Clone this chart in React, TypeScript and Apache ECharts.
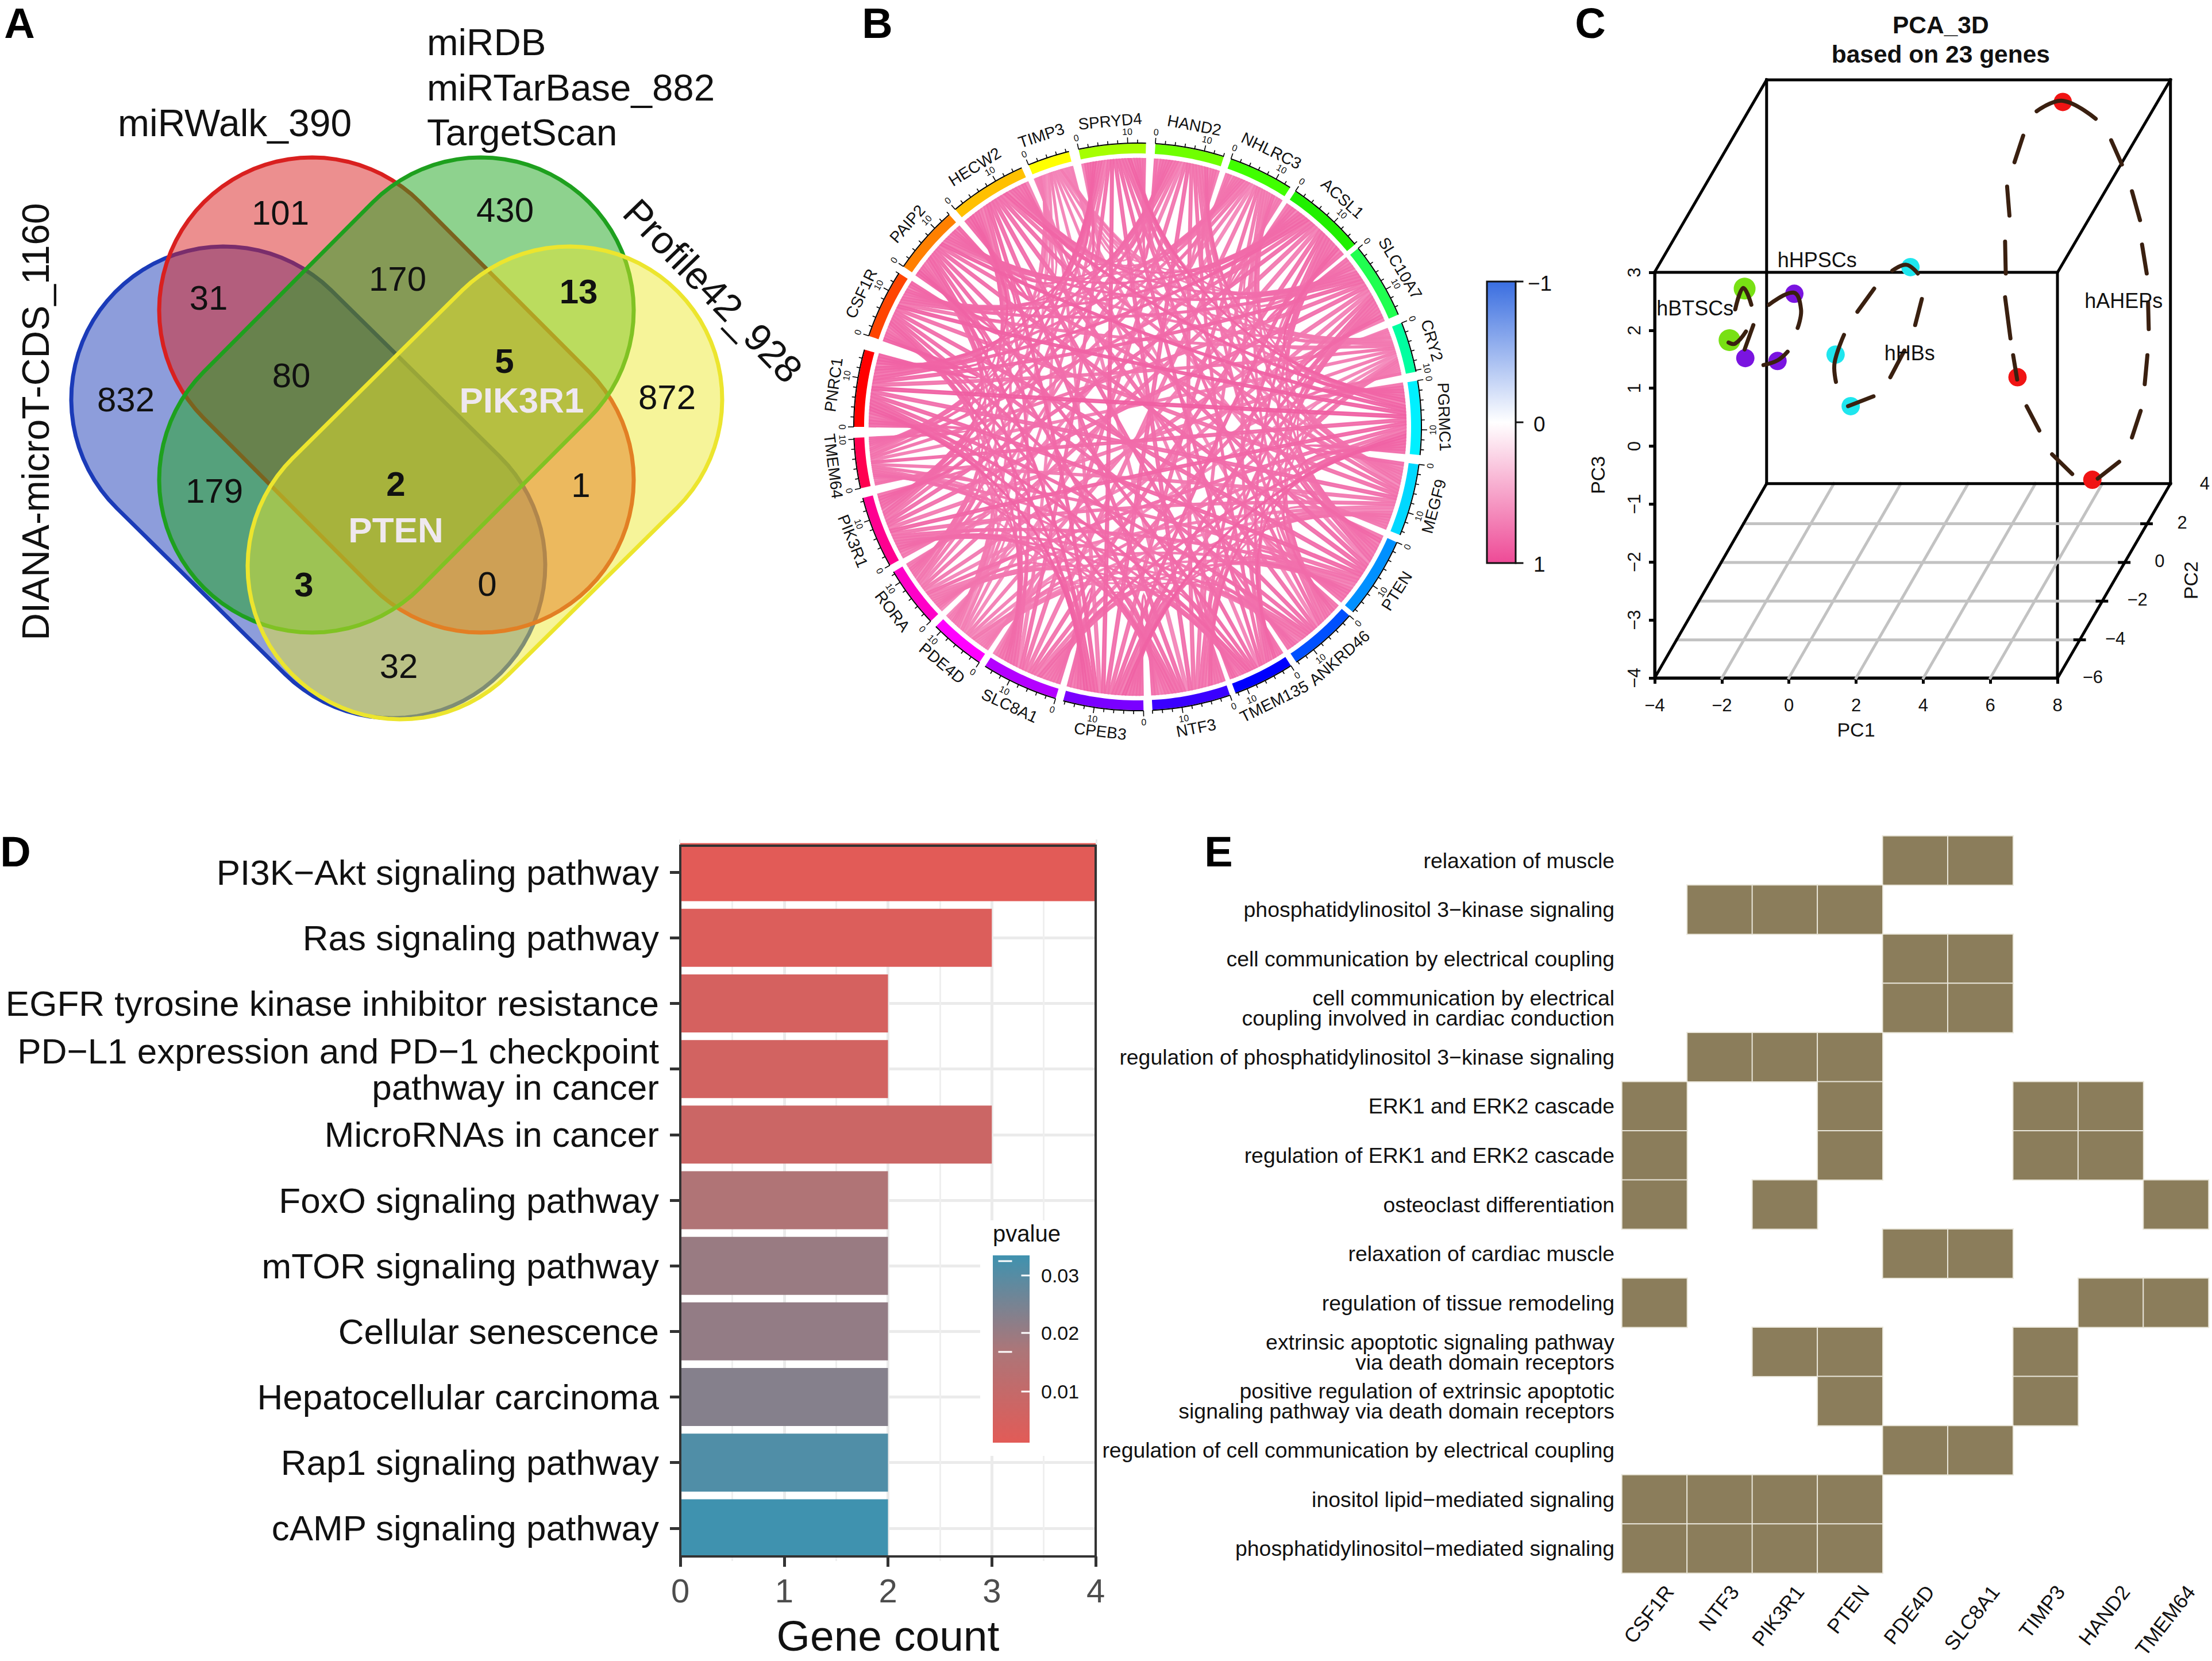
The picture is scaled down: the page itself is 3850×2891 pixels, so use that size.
import React, { useEffect, useRef } from "react";
import * as echarts from "echarts";

const FONT = '"Liberation Sans", Arial, sans-serif';

// ---------- Panel A ----------
const vennValues = ["832", "101", "31", "430", "170", "13", "80", "5", "PIK3R1", "872", "179", "2", "PTEN", "1", "3", "0", "32"];
const vennBold = ["13", "5", "PIK3R1", "2", "PTEN", "3"];
const vennSets = ["DIANA-microT-CDS_1160", "miRWalk_390", "miRDB", "miRTarBase_882", "TargetScan", "Profile42_928"];

// ---------- Panel B ----------
const chordGenes = ["SPRYD4", "HAND2", "NHLRC3", "ACSL1", "SLC10A7", "CRY2", "PGRMC1", "MEGF9", "PTEN", "ANKRD46", "TMEM135", "NTF3", "CPEB3", "SLC8A1", "PDE4D", "RORA", "PIK3R1", "TMEM64", "PNRC1", "CSF1R", "PAIP2", "HECW2", "TIMP3"];
const chordStart = [-12, 3.6, 19.2, 33.8, 51, 68.5, 80.6, 97.6, 114, 131.7, 147.3, 161, 178.8, 196.8, 213.9, 226.8, 240.8, 257.5, 270, 288.7, 304.4, 320, 337.4];
const chordEnd = [1.7, 17.7, 32.5, 50, 66.7, 78.8, 95.7, 112.4, 130.7, 146, 159.8, 177, 195.2, 212.5, 225.3, 239.3, 255.5, 267.8, 285.8, 302.8, 318.4, 335.9, 346];
const chordCorr = [0.82, 0.76, 0.7, 0.8, 0.78, 0.66, 0.88, 0.72, 0.78, 0.76, 0.8, 0.78, 0.84, 0.76, 0.62, 0.7, 0.8, 0.76, 0.88, 0.84, 0.84, 0.82, 0.58];
const chordColors = ["#a6ff00", "#6fff00", "#40ff00", "#20f000", "#20ff50", "#00ffa0", "#00f0ff", "#00d8ff", "#0090ff", "#0050ff", "#0000ff", "#3a00ff", "#7a00ff", "#b400ff", "#ff00ff", "#ff00c8", "#ff0090", "#ff0050", "#ff0000", "#ff4500", "#ff8000", "#ffc000", "#ffff00"];

// ---------- Panel C ----------
const pcaTicksPC2 = ["−6", "−4", "−2", "0", "2", "4"];
const pcaGreen = [[-1.32, 2.72], [-1.77, 1.83]];
const pcaPurple = [[0.16, 2.63], [-1.3, 1.52], [-0.34, 1.47]];
const pcaCyan = [[3.62, 3.09], [1.39, 1.58], [1.84, 0.69]];
const pcaRed = [[8.16, 5.94], [6.81, 1.19], [9.04, -0.58]];
const ellipseDashes: number[][][] = [
  [[7.38, 5.78], [8.16, 5.96], [9.14, 5.65]], [[9.6, 5.28], [9.92, 4.86]], [[10.22, 4.4], [10.46, 3.9]], [[10.52, 3.48], [10.66, 2.98]],
  [[10.7, 2.48], [10.72, 2.02]], [[10.68, 1.57], [10.6, 1.07]], [[10.48, 0.61], [10.22, 0.15]], [[9.84, -0.27], [9.2, -0.56]],
  [[8.44, -0.48], [7.84, -0.14]], [[7.46, 0.27], [7.08, 0.69]], [[6.8, 1.15], [6.68, 1.57]], [[6.6, 1.86], [6.44, 2.57]],
  [[6.46, 2.98], [6.44, 3.53]], [[6.57, 3.98], [6.5, 4.48]], [[6.72, 4.9], [6.98, 5.36]],
  [[3.08, 3.03], [3.5, 3.13], [3.84, 2.98]], [[3.96, 2.54], [3.76, 2.09]], [[3.44, 1.65], [3.02, 1.19]], [[2.52, 0.86], [1.76, 0.69]],
  [[1.4, 1.11], [1.36, 1.44], [1.64, 1.92]], [[2.04, 2.32], [2.54, 2.72]],
  [[-0.6, 2.44], [0.14, 2.65], [0.36, 2.36], [0.26, 2.04]], [[-0.04, 1.63], [-0.34, 1.48], [-0.76, 1.4]], [[-1.32, 1.67], [-1.06, 2.09]],
  [[-1.6, 2.36], [-1.36, 2.73], [-1.12, 2.44]], [[-1.28, 1.98], [-1.6, 1.77], [-1.8, 1.79]],
];

// ---------- Panel D ----------
const pathways = ["PI3K−Akt signaling pathway", "Ras signaling pathway", "EGFR tyrosine kinase inhibitor resistance", "PD−L1 expression and PD−1 checkpoint\npathway in cancer", "MicroRNAs in cancer", "FoxO signaling pathway", "mTOR signaling pathway", "Cellular senescence", "Hepatocellular carcinoma", "Rap1 signaling pathway", "cAMP signaling pathway"];
const geneCounts = [4, 3, 2, 2, 3, 2, 2, 2, 2, 2, 2];
const pValues = [0.0012, 0.003, 0.005, 0.006, 0.008, 0.016, 0.02, 0.021, 0.023, 0.031, 0.0335];
const pLegendTicks = ["0.03", "0.02", "0.01"];

// ---------- Panel E ----------
const goGenes = ["CSF1R", "NTF3", "PIK3R1", "PTEN", "PDE4D", "SLC8A1", "TIMP3", "HAND2", "TMEM64"];
const goTerms = ["relaxation of muscle", "phosphatidylinositol 3−kinase signaling", "cell communication by electrical coupling", "cell communication by electrical\ncoupling involved in cardiac conduction", "regulation of phosphatidylinositol 3−kinase signaling", "ERK1 and ERK2 cascade", "regulation of ERK1 and ERK2 cascade", "osteoclast differentiation", "relaxation of cardiac muscle", "regulation of tissue remodeling", "extrinsic apoptotic signaling pathway\nvia death domain receptors", "positive regulation of extrinsic apoptotic\nsignaling pathway via death domain receptors", "regulation of cell communication by electrical coupling", "inositol lipid−mediated signaling", "phosphatidylinositol−mediated signaling"];
const goMembers = [
  ["PDE4D", "SLC8A1"], ["NTF3", "PIK3R1", "PTEN"], ["PDE4D", "SLC8A1"], ["PDE4D", "SLC8A1"], ["NTF3", "PIK3R1", "PTEN"],
  ["CSF1R", "PTEN", "TIMP3", "HAND2"], ["CSF1R", "PTEN", "TIMP3", "HAND2"], ["CSF1R", "PIK3R1", "TMEM64"], ["PDE4D", "SLC8A1"], ["CSF1R", "HAND2", "TMEM64"],
  ["PIK3R1", "PTEN", "TIMP3"], ["PTEN", "TIMP3"], ["PDE4D", "SLC8A1"], ["CSF1R", "NTF3", "PIK3R1", "PTEN"], ["CSF1R", "NTF3", "PIK3R1", "PTEN"],
];

// ---------- helpers ----------
const txt = (text: string, x: number, y: number, size: number, o: any = {}) => ({
  type: "text", x, y, rotation: o.rotation || 0, z: o.z ?? 50, silent: true,
  style: {
    text, fill: o.fill || "#111", fontSize: size, fontFamily: FONT, fontWeight: o.weight || "normal",
    align: o.align || "center", textAlign: o.align || "center", verticalAlign: "middle", textVerticalAlign: "middle", lineHeight: o.lineHeight,
  },
});
const seg = (a: number[], b: number[], stroke: string, lineWidth: number, z = 1) => ({
  type: "line", z, silent: true, shape: { x1: a[0], y1: a[1], x2: b[0], y2: b[1] }, style: { stroke, lineWidth, lineCap: "square" },
});
function stadium(x1: number, y1: number, x2: number, y2: number, r: number) {
  const base = Math.atan2(y2 - y1, x2 - x1);
  const pts: number[][] = [];
  for (let k = 0; k <= 40; k++) {
    const t = base + Math.PI / 2 + (Math.PI * k) / 40;
    pts.push([x1 + r * Math.cos(t), y1 + r * Math.sin(t)]);
  }
  for (let k = 0; k <= 40; k++) {
    const t = base - Math.PI / 2 + (Math.PI * k) / 40;
    pts.push([x2 + r * Math.cos(t), y2 + r * Math.sin(t)]);
  }
  return pts;
}

// Panel A layout
const vennPos = [[219, 695], [488, 370], [363, 518], [879, 365], [692, 485], [1007, 507], [507, 653], [878, 628], [908, 696], [1161, 691], [373, 854], [689, 842], [689, 922], [1011, 844], [529, 1017], [848, 1016], [694, 1159]];
function vennGraphics() {
  const shapes = [
    { c: [390, 695, 683, 984], fill: "rgba(27,59,184,0.5)", stroke: "#1b3bb8" },
    { c: [543, 540, 837, 835], fill: "rgba(217,32,31,0.5)", stroke: "#d9201f" },
    { c: [837, 540, 543, 835], fill: "rgba(30,165,30,0.5)", stroke: "#1ea01e" },
    { c: [991, 695, 697, 986], fill: "rgba(237,232,42,0.48)", stroke: "#ece52e" },
  ];
  const els: any[] = shapes.map((s, i) => ({
    type: "polygon", z: 2 + i, silent: true,
    shape: { points: stadium(s.c[0], s.c[1], s.c[2], s.c[3], 266) },
    style: { fill: s.fill, stroke: s.stroke, lineWidth: 7 },
  }));
  vennValues.forEach((v, i) => {
    const bold = vennBold.includes(v);
    const isGene = v === "PIK3R1" || v === "PTEN";
    els.push(txt(v, vennPos[i][0], vennPos[i][1], isGene ? 62 : 60, { weight: bold ? "bold" : "normal", fill: isGene ? "#efe8ef" : "#111" }));
  });
  els.push(txt(vennSets[0], 62, 734, 66, { rotation: Math.PI / 2 }));
  els.push(txt(vennSets[1], 205, 214, 66, { align: "left" }));
  els.push(txt(vennSets[2], 743, 73, 65.5, { align: "left" }));
  els.push(txt(vennSets[3], 743, 152, 65.5, { align: "left" }));
  els.push(txt(vennSets[4], 743, 230, 65.5, { align: "left" }));
  els.push(txt(vennSets[5], 1241, 506, 67, { rotation: (-46 * Math.PI) / 180 }));
  return els;
}

// Panel B layout
const CX = 1980, CY = 743, R_AXIS = 494, R_RING = 476, R_LINK = 467;
const polar = (deg: number, r: number) => {
  const t = (deg * Math.PI) / 180;
  return [CX + r * Math.sin(t), CY - r * Math.cos(t)];
};
const tangentRotation = (deg: number) => {
  const d = ((deg % 360) + 360) % 360;
  return d > 90 && d < 270 ? ((180 - d) * Math.PI) / 180 : (-d * Math.PI) / 180;
};
function mixPink(c: number) {
  const to = [238, 74, 150];
  const v = to.map((ch) => Math.round(255 + (ch - 255) * c));
  return `rgb(${v[0]},${v[1]},${v[2]})`;
}
const chordLinks: number[][] = [];
chordGenes.forEach((_, i) => {
  for (let j = i + 1; j < chordGenes.length; j++) chordLinks.push([i, j, (chordCorr[i] + chordCorr[j]) / 2]);
});
chordLinks.sort((a, b) => a[2] - b[2]);
function slot(i: number, j: number) {
  const n = chordGenes.length;
  const k = (j - i + n) % n;
  const span = chordEnd[i] - chordStart[i];
  const w = span / (n - 1);
  const mid = chordStart[i] + span * (1 - (k - 0.5) / (n - 1));
  return [mid - w * 0.47, mid + w * 0.47];
}
function curve(p0: number[], p2: number[]) {
  const ux = (p0[0] + p2[0]) / 2 - CX, uy = (p0[1] + p2[1]) / 2 - CY;
  const near = Math.hypot(ux, uy) / R_LINK;
  const k = 0.25 + 0.75 * (1 - near);
  const c = [CX + k * ux, CY + k * uy];
  const out: number[][] = [];
  for (let s = 1; s < 16; s++) {
    const t = s / 16;
    out.push([
      (1 - t) * (1 - t) * p0[0] + 2 * t * (1 - t) * c[0] + t * t * p2[0],
      (1 - t) * (1 - t) * p0[1] + 2 * t * (1 - t) * c[1] + t * t * p2[1],
    ]);
  }
  return out;
}
function renderRibbon(_: any, api: any) {
  const i = api.value(0), j = api.value(1), corr = api.value(2);
  const a = slot(i, j), b = slot(j, i);
  const a0 = polar(a[0], R_LINK), a1 = polar(a[1], R_LINK), b0 = polar(b[0], R_LINK), b1 = polar(b[1], R_LINK);
  const color = mixPink(corr);
  return {
    type: "polygon",
    shape: { points: [a0, a1, ...curve(a1, b0), b0, b1, ...curve(b1, a0)] },
    style: { fill: color, stroke: color, lineWidth: 2.4, opacity: 0.92 },
  };
}
function renderSector(_: any, api: any) {
  const i = api.value(0);
  const s = chordStart[i], e = chordEnd[i];
  const outer: number[][] = [], inner: number[][] = [], axis: number[][] = [];
  for (let k = 0; k <= 16; k++) {
    const d = s + ((e - s) * k) / 16;
    outer.push(polar(d, R_AXIS - 1));
    inner.unshift(polar(d, R_RING));
    axis.push(polar(d, R_AXIS));
  }
  const children: any[] = [
    { type: "polygon", shape: { points: [...outer, ...inner] }, style: { fill: chordColors[i] } },
    { type: "polyline", shape: { points: axis }, style: { stroke: "#000", fill: "none", lineWidth: 2 } },
  ];
  for (let u = 0; u <= e - s; u += 2) {
    const major = u % 10 === 0;
    const p = polar(s + u, R_AXIS), q = polar(s + u, R_AXIS + (major ? 10 : 6));
    children.push({ type: "line", shape: { x1: p[0], y1: p[1], x2: q[0], y2: q[1] }, style: { stroke: "#000", lineWidth: 1.6 } });
    if (major) {
      const l = polar(s + u, R_AXIS + 20);
      children.push({
        type: "text", x: l[0], y: l[1], rotation: tangentRotation(s + u),
        style: { text: String(u), fontSize: 16, fontFamily: FONT, fill: "#111", align: "center", verticalAlign: "middle", textAlign: "center", textVerticalAlign: "middle" },
      });
    }
  }
  const mid = (s + e) / 2, lp = polar(mid, 534);
  children.push({
    type: "text", x: lp[0], y: lp[1], rotation: tangentRotation(mid),
    style: { text: chordGenes[i], fontSize: 28, fontFamily: FONT, fill: "#111", align: "center", verticalAlign: "middle", textAlign: "center", textVerticalAlign: "middle" },
  });
  return { type: "group", children };
}
function colorbarGraphics() {
  return [
    {
      type: "rect", z: 2, silent: true, shape: { x: 2588, y: 490, width: 50, height: 490 },
      style: {
        stroke: "#111", lineWidth: 3,
        fill: { type: "linear", x: 0, y: 0, x2: 0, y2: 1, colorStops: [{ offset: 0, color: "#3a6ee0" }, { offset: 0.5, color: "#ffffff" }, { offset: 1, color: "#ee4a96" }] },
      },
    },
    seg([2638, 490], [2650, 490], "#111", 3), seg([2638, 735], [2650, 735], "#111", 3), seg([2638, 980], [2650, 980], "#111", 3),
    txt("−1", 2659, 493, 37, { align: "left" }), txt("0", 2669, 738, 37, { align: "left" }), txt("1", 2669, 982, 37, { align: "left" }),
  ];
}

// Panel C layout (helper takes zoomed frame coordinates)
const C = (dx: number, dy: number) => [2750 + dx / 1.4255, dy / 1.188];
function pcaGraphics() {
  const els: any[] = [];
  const grey = "#c2c2c2";
  [352, 518, 685, 852, 1018].forEach((x) => els.push(seg(C(x, 1402), C(x + 278, 1000), grey, 5)));
  [1083, 1163, 1243, 1323].forEach((y) => {
    const l = 185 + ((1402 - y) * 278) / 402;
    els.push(seg(C(l, y), C(l + 1000, y), grey, 5));
    els.push(seg(C(l + 1000 - 12, y), C(l + 1012, y), "#000", 5, 3));
  });
  const k = "#000";
  const frame = [
    [[185, 563], [463, 165]], [[1185, 563], [1465, 165]], [[185, 1402], [463, 1000]], [[1185, 1402], [1465, 1000]],
    [[463, 165], [1465, 165]], [[1465, 165], [1465, 1000]], [[1465, 1000], [463, 1000]], [[463, 1000], [463, 165]],
  ];
  frame.forEach((f) => els.push(seg(C(f[0][0], f[0][1]), C(f[1][0], f[1][1]), k, 5, 2)));
  const pc2 = [[1272, 1400], [1328, 1320], [1383, 1240], [1438, 1160], [1494, 1080], [1550, 1000]];
  pcaTicksPC2.forEach((t, i) => {
    const p = C(pc2[i][0], pc2[i][1]);
    els.push(txt(t, p[0], p[1], 31));
  });
  const name = C(1515, 1200);
  els.push(txt("PC2", name[0], name[1], 34, { rotation: Math.PI / 2 }));
  const title = C(895, 52), title2 = C(895, 112);
  els.push(txt("PCA_3D", title[0], title[1], 42.5, { weight: "bold" }));
  els.push(txt("based on 23 genes", title2[0], title2[1], 42.5, { weight: "bold" }));
  const groups: [string, number, number][] = [["hHPSCs", 490, 538], ["hBTSCs", 190, 637], ["hHBs", 755, 730], ["hAHEPs", 1252, 622]];
  groups.forEach(([t, x, y]) => {
    const p = C(x, y);
    els.push(txt(t, p[0], p[1], 36, { align: "left", z: 60 }));
  });
  return els;
}
function renderDash(_: any, api: any) {
  const d = ellipseDashes[api.value(2)];
  return {
    type: "polyline",
    shape: { points: d.map((p) => api.coord(p)), smooth: 0.4 },
    style: { stroke: "#3a2010", fill: "none", lineWidth: 7, lineCap: "round" },
  };
}

// Panel D furniture
function pPanelGraphics() {
  const els: any[] = [
    { type: "rect", z: 1, silent: true, shape: { x: 1184, y: 1455, width: 723, height: 15 }, style: { fill: "#fff" } },
    { type: "rect", z: 10, silent: true, shape: { x: 1184, y: 1472, width: 723, height: 1237 }, style: { fill: "none", stroke: "#333", lineWidth: 4 } },
    { type: "rect", z: 40, silent: true, shape: { x: 1706, y: 2124, width: 199, height: 410 }, style: { fill: "#fff" } },
    {
      type: "rect", z: 41, silent: true, shape: { x: 1728, y: 2185, width: 64, height: 326 },
      style: { fill: { type: "linear", x: 0, y: 0, x2: 0, y2: 1, colorStops: [{ offset: 0, color: "#3f92af" }, { offset: 0.5, color: "#ab7679" }, { offset: 1, color: "#e25b57" }] } },
    },
    txt("pvalue", 1728, 2147, 40, { align: "left" }),
  ];
  [2220, 2320, 2422].forEach((y, i) => {
    els.push({ ...seg([1779, y], [1792, y], "#fff", 3), z: 42 });
    els.push(txt(pLegendTicks[i], 1812, y, 34, { align: "left" }));
  });
  [2195, 2353].forEach((y) => els.push({ ...seg([1739, y], [1760, y], "#fff", 3), z: 42 }));
  return els;
}
// Panel E column labels
function goGeneLabels() {
  return goGenes.map((g, i) => txt(g, 2823 + ((i + 0.5) * 1021) / goGenes.length + 26, 2764, 35.5, { align: "right", rotation: (52 * Math.PI) / 180 }));
}

const letters = [["A", 34, 40], ["B", 1527, 40], ["C", 2768, 40], ["D", 27, 1482], ["E", 2121, 1482]];

function buildOption(): any {
  const heat: any[] = [];
  goMembers.forEach((m, row) => m.forEach((g) => heat.push([goGenes.indexOf(g), row, 1])));
  const scatter = (data: number[][], color: string, size = 32) => ({
    type: "scatter", xAxisIndex: 2, yAxisIndex: 2, data, clip: false, z: 4, symbolSize: size, itemStyle: { color, opacity: 1 }, silent: true,
  });
  const minus = (v: number) => String(v).replace("-", "−");
  return {
    animation: false,
    backgroundColor: "#fff",
    textStyle: { fontFamily: FONT },
    grid: [
      { left: 1184, top: 1461, width: 723, height: 1256, show: false, containLabel: false, outerBoundsMode: "none" },
      { left: 2823, top: 1455, width: 1021, height: 1283, containLabel: false, outerBoundsMode: "none" },
      { left: 2880, top: 474, width: 701, height: 706, show: true, borderColor: "#000", borderWidth: 5, containLabel: false, outerBoundsMode: "none" },
    ],
    xAxis: [
      {
        gridIndex: 0, type: "value", min: 0, max: 4, interval: 1, offset: -8, name: "Gene count", nameLocation: "middle", nameGap: 100,
        nameTextStyle: { fontSize: 75, color: "#111", fontFamily: FONT },
        axisLine: { show: true, lineStyle: { color: "#333", width: 4 } }, axisTick: { show: true, length: 18, lineStyle: { color: "#333", width: 5 } },
        axisLabel: { fontSize: 58, color: "#4d4d4d", margin: 30, fontFamily: FONT, showMinLabel: true, showMaxLabel: true },
        splitLine: { show: true, lineStyle: { color: "#ebebeb", width: 5 } },
        minorTick: { show: false, splitNumber: 2 }, minorSplitLine: { show: true, lineStyle: { color: "#efefef", width: 3 } },
      },
      {
        gridIndex: 1, type: "category", data: goGenes, position: "bottom",
        axisLine: { show: false }, axisTick: { show: false }, splitLine: { show: false }, axisLabel: { show: false },
      },
      {
        gridIndex: 2, type: "value", min: -4, max: 8, interval: 2, name: "PC1", nameLocation: "middle", nameGap: 73,
        nameTextStyle: { fontSize: 34, color: "#111", fontFamily: FONT },
        axisLine: { show: true, onZero: false, lineStyle: { color: "#000", width: 5 } }, axisTick: { show: true, length: 10, lineStyle: { color: "#000", width: 5 } },
        axisLabel: { fontSize: 31, color: "#111", margin: 32, fontFamily: FONT, showMinLabel: true, showMaxLabel: true, formatter: minus }, splitLine: { show: false },
      },
    ],
    yAxis: [
      {
        gridIndex: 0, type: "category", data: pathways, inverse: true,
        axisLine: { show: false },
        axisTick: { show: true, alignWithLabel: true, length: 18, lineStyle: { color: "#333", width: 5 } },
        axisLabel: { fontSize: 62, color: "#111", margin: 37, interval: 0, lineHeight: 63, fontFamily: FONT },
        splitLine: { show: true, alignWithLabel: true, lineStyle: { color: "#ebebeb", width: 5 } },
      },
      {
        gridIndex: 1, type: "category", data: goTerms, inverse: true,
        axisLine: { show: false }, axisTick: { show: false }, splitLine: { show: false },
        axisLabel: { fontSize: 37.4, color: "#111", margin: 13, interval: 0, lineHeight: 35, padding: [0, 0, 6, 0], fontFamily: FONT },
      },
      {
        gridIndex: 2, type: "value", min: -4, max: 3, interval: 1, name: "PC3", nameLocation: "middle", nameGap: 82,
        nameTextStyle: { fontSize: 34, color: "#111", fontFamily: FONT },
        axisLine: { show: true, onZero: false, lineStyle: { color: "#000", width: 5 } }, axisTick: { show: true, length: 10, lineStyle: { color: "#000", width: 5 } },
        axisLabel: { fontSize: 31, color: "#111", margin: 20, rotate: 90, fontFamily: FONT, showMinLabel: true, showMaxLabel: true, formatter: minus }, splitLine: { show: false },
      },
    ],
    visualMap: [
      { show: false, type: "continuous", seriesIndex: 2, dimension: 2, min: 0.0012, max: 0.0335, inRange: { color: ["#e25b57", "#ab7679", "#3f92af"] } },
      { show: false, type: "continuous", seriesIndex: 3, dimension: 2, min: 0, max: 1, inRange: { color: ["#8b7d5b", "#8b7d5b"] } },
    ],
    series: [
      { type: "custom", coordinateSystem: "none", renderItem: renderRibbon, data: chordLinks, silent: true, z: 2 },
      { type: "custom", coordinateSystem: "none", renderItem: renderSector, data: chordGenes.map((_, i) => [i]), silent: true, z: 3 },
      {
        type: "bar", xAxisIndex: 0, yAxisIndex: 0, barWidth: 101, z: 3, silent: true,
        encode: { x: 0, y: 1 },
        data: geneCounts.map((c, i) => [c, i, pValues[i]]),
      },
      {
        type: "heatmap", xAxisIndex: 1, yAxisIndex: 1, data: heat, silent: true,
        itemStyle: { borderColor: "#e9e6da", borderWidth: 2 },
      },
      scatter(pcaGreen, "#78e014", 38),
      scatter(pcaPurple, "#7a14e0"),
      scatter(pcaCyan, "#1fe6ee"),
      scatter(pcaRed, "#f01414"),
      {
        type: "custom", xAxisIndex: 2, yAxisIndex: 2, coordinateSystem: "cartesian2d", z: 5, silent: true, clip: false,
        renderItem: renderDash,
        encode: { x: 0, y: 1 },
        data: ellipseDashes.map((d, i) => [d[0][0], d[0][1], i]),
      },
    ],
    graphic: [
      ...vennGraphics(),
      ...colorbarGraphics(),
      ...pcaGraphics(),
      ...pPanelGraphics(),
      ...goGeneLabels(),
      ...letters.map((l) => txt(l[0] as string, l[1] as number, l[2] as number, 74, { weight: "bold", fill: "#000", z: 70 })),
    ],
  };
}

export default function App() {
  const ref = useRef<HTMLDivElement>(null);
  useEffect(() => {
    document.body.style.margin = "0";
    const chart = echarts.init(ref.current!, undefined, { renderer: "svg" });
    chart.setOption(buildOption());
    return () => chart.dispose();
  }, []);
  return <div ref={ref} style={{ position: "absolute", left: 0, top: 0, width: 3850, height: 2891 }} />;
}
